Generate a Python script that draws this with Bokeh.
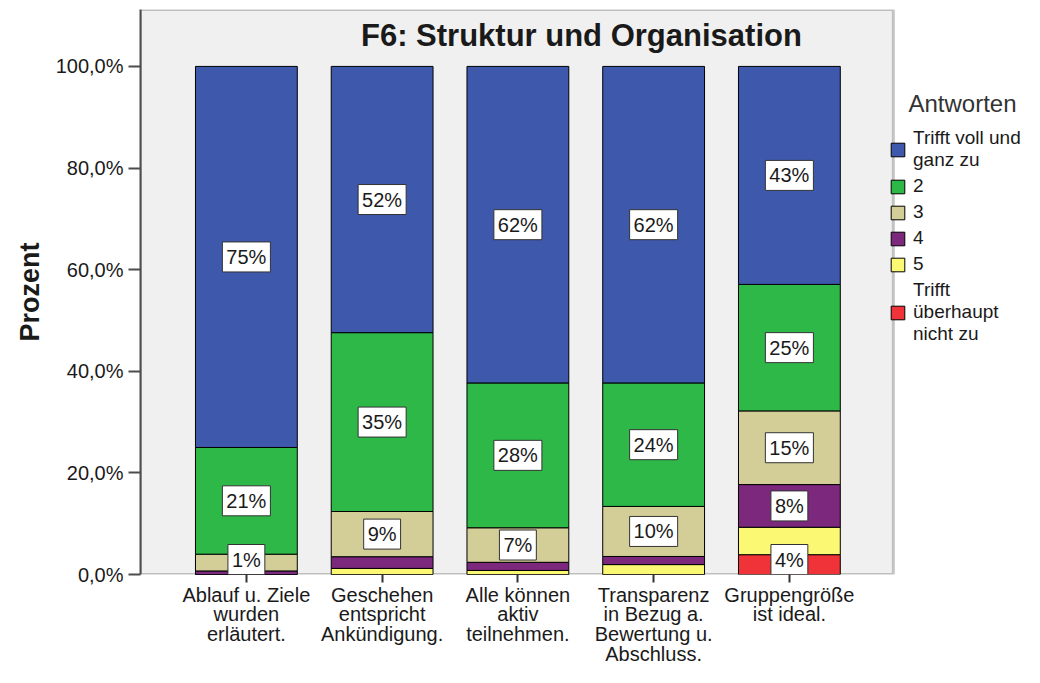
import numpy as np
from bokeh.plotting import figure
from bokeh.models import (ColumnDataSource, FixedTicker, Legend, LegendItem, Label, Range1d,
                          BoxAnnotation)
from bokeh.embed import file_html
from bokeh.resources import INLINE
from bokeh.core.properties import value

# ---------------- data ----------------
categories = ["Ablauf u. Ziele\nwurden\nerläutert.",
              "Geschehen\nentspricht\nAnkündigung.",
              "Alle können\naktiv\nteilnehmen.",
              "Transparenz\nin Bezug a.\nBewertung u.\nAbschluss.",
              "Gruppengröße\nist ideal."]
series_names = ["Trifft voll und\nganz zu", "2", "3", "4", "5", "Trifft\nüberhaupt\nnicht zu"]
colors = ["#3E58AC", "#2EB848", "#D3CE97", "#7C287D", "#FBF873", "#EF3338"]

v_1 = [75.0, 52.4, 62.3, 62.3, 42.9]   # Trifft voll und ganz zu
v_2 = [21.0, 35.2, 28.5, 24.3, 24.9]
v_3 = [3.3, 8.9, 6.8, 9.85, 14.5]
v_4 = [0.7, 2.3, 1.6, 1.6, 8.4]
v_5 = [0.0, 1.2, 0.8, 1.95, 5.4]
v_6 = [0.0, 0.0, 0.0, 0.0, 3.9]        # Trifft überhaupt nicht zu

lab_1 = ["75%", "52%", "62%", "62%", "43%"]
lab_2 = ["21%", "35%", "28%", "24%", "25%"]
lab_3 = ["", "9%", "7%", "10%", "15%"]
lab_4 = ["1%", "", "", "", "8%"]
lab_5 = ["", "", "", "", ""]
lab_6 = ["", "", "", "", "4%"]

y_ticks = [0, 20, 40, 60, 80, 100]
y_tick_labels = ["0,0%", "20,0%", "40,0%", "60,0%", "80,0%", "100,0%"]

title_text = "F6: Struktur und Organisation"
y_title = "Prozent"
legend_title = "Antworten"

# ---------------- figure ----------------
FONT = "Liberation Sans"
X0, X1 = -0.78, 4.766          # extent of the grey chart box
Y_TOP = 111.2
p = figure(width=1024, height=667, output_backend="svg", toolbar_location=None,
           x_range=Range1d(X0, 5.732), y_range=Range1d(0, Y_TOP),
           min_border_left=140, min_border_right=0, min_border_top=9, min_border_bottom=92)
p.background_fill_color = "white"
p.border_fill_color = "white"
p.outline_line_color = None
p.xgrid.visible = False
p.ygrid.visible = False

p.add_layout(BoxAnnotation(left=X0, right=X1, bottom=0, top=Y_TOP, fill_color="#F0F0F0",
                           fill_alpha=1.0, line_color="#4D4D4D", line_width=3, level="underlay"))

x = np.arange(len(categories))
values = [v_1, v_2, v_3, v_4, v_5, v_6]
labels = [lab_1, lab_2, lab_3, lab_4, lab_5, lab_6]

# stack from bottom: last series at the bottom
bottom = np.zeros(len(categories))
renderers = [None] * len(values)
lx, ly, lt = [], [], []
for i in reversed(range(len(values))):
    vals = np.array(values[i], dtype=float)
    top = bottom + vals
    src = ColumnDataSource(dict(x=x, bottom=bottom.copy(), top=top))
    r = p.vbar(x="x", bottom="bottom", top="top", width=0.75, source=src,
               fill_color=colors[i], line_color="black", line_width=1)
    renderers[i] = r
    for j in range(len(categories)):
        if labels[i][j]:
            lx.append(x[j])
            ly.append(max((bottom[j] + top[j]) / 2.0, 2.95))
            lt.append(labels[i][j])
    bottom = top

lsrc = ColumnDataSource(dict(x=lx, y=ly, t=lt))
p.text(x="x", y="y", text="t", source=lsrc, text_align="center", text_baseline="middle",
       text_font=value(FONT), text_font_size="20px", text_color="#1A1A1A",
       background_fill_color="white", border_line_color="#333333", border_line_width=1,
       padding=4)

# axes
p.xaxis.ticker = FixedTicker(ticks=list(x))
p.xaxis.major_label_overrides = {int(i): c for i, c in zip(x, categories)}
p.xaxis.major_label_text_font = FONT
p.xaxis.major_label_text_font_size = "20px"
p.xaxis.major_label_text_color = "#1A1A1A"
p.xaxis.major_label_text_line_height = 0.9
p.xaxis.major_tick_out = 8
p.xaxis.major_tick_in = 0
p.xaxis.minor_tick_line_color = None
p.xaxis.major_label_standoff = 1
p.xaxis.axis_line_color = None
p.xaxis.major_tick_line_color = "#333333"
p.xaxis.major_tick_line_width = 2

p.yaxis.ticker = FixedTicker(ticks=y_ticks)
p.yaxis.major_label_overrides = {t: l for t, l in zip(y_ticks, y_tick_labels)}
p.yaxis.major_label_text_font = FONT
p.yaxis.major_label_text_font_size = "20px"
p.yaxis.major_label_text_color = "#1A1A1A"
p.yaxis.major_tick_out = 12
p.yaxis.major_tick_in = 0
p.yaxis.minor_tick_line_color = None
p.yaxis.major_label_standoff = 5
p.yaxis.axis_line_color = "#4D4D4D"
p.yaxis.axis_line_width = 2
p.yaxis.major_tick_line_color = "#4D4D4D"
p.yaxis.major_tick_line_width = 2
p.yaxis.axis_label = y_title
p.yaxis.axis_label_text_font = FONT
p.yaxis.axis_label_text_font_size = "27px"
p.yaxis.axis_label_text_font_style = "bold"
p.yaxis.axis_label_text_color = "#1A1A1A"
p.yaxis.axis_label_standoff = 8

# title inside plot
p.add_layout(Label(x=2.468, y=106.1, text=title_text, text_align="center", text_baseline="middle",
                   text_font=FONT, text_font_size="31px", text_font_style="bold",
                   text_color="#1A1A1A"))

# legend
p.add_layout(Label(x=4.877, y=92.7, text=legend_title, text_align="left", text_baseline="middle",
                   text_font=FONT, text_font_size="24px", text_color="#333333"))
legend = Legend(items=[LegendItem(label=series_names[i], renderers=[renderers[i]])
                       for i in range(len(series_names))],
                location=(749, 229), orientation="vertical")
legend.label_text_font = FONT
legend.label_text_font_size = "19px"
legend.label_text_color = "#1A1A1A"
legend.label_text_line_height = 0.92
legend.glyph_width = 17
legend.glyph_height = 17
legend.label_standoff = 7
legend.spacing = 4
legend.padding = 0
legend.margin = 0
legend.background_fill_alpha = 0
legend.border_line_alpha = 0
p.add_layout(legend, "center")

open("out.html", "w").write(file_html(p, INLINE))
